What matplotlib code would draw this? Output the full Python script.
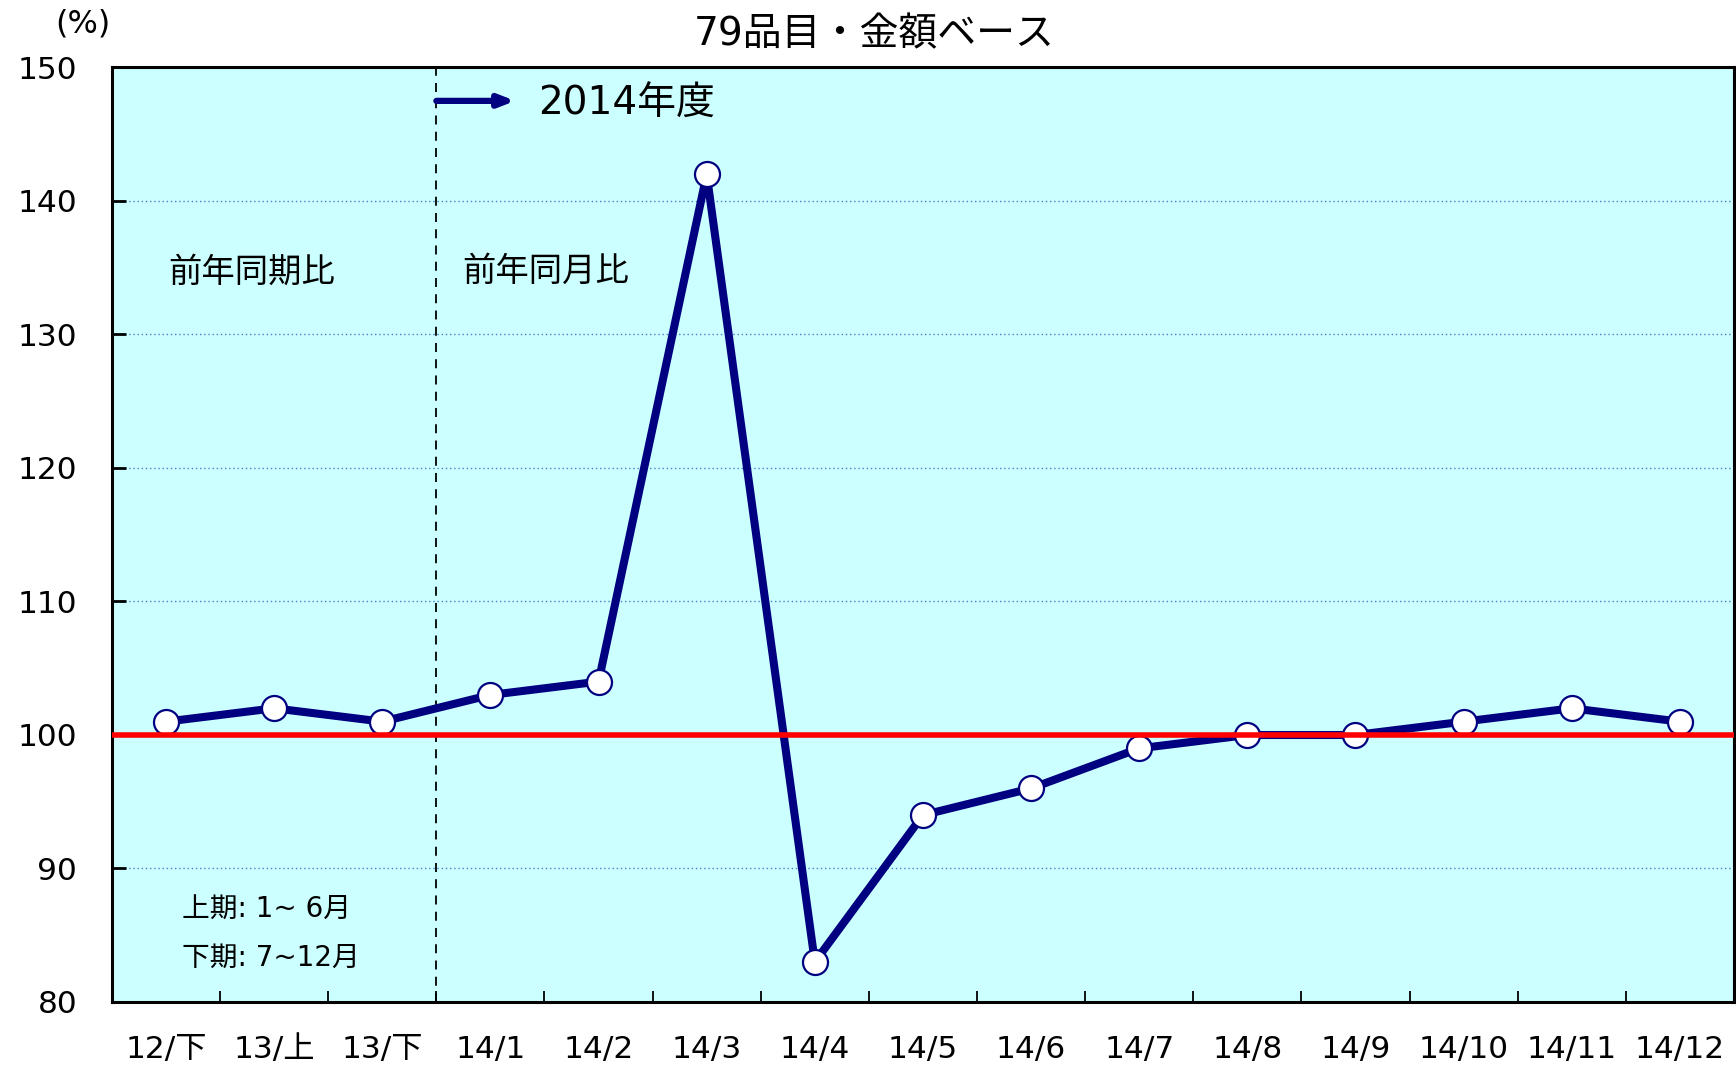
import matplotlib
matplotlib.use("Agg")
import matplotlib.pyplot as plt

plt.rcParams["font.family"] = ["DejaVu Sans", "Noto Sans CJK JP"]

labels = ["12/下", "13/上", "13/下", "14/1", "14/2", "14/3", "14/4", "14/5",
          "14/6", "14/7", "14/8", "14/9", "14/10", "14/11", "14/12"]
values = [101, 102, 101, 103, 104, 142, 83, 94, 96, 99, 100, 100, 101, 102, 101]
yticks = [80, 90, 100, 110, 120, 130, 140, 150]

fig = plt.figure(figsize=(17.36, 10.68), dpi=100)
ax = fig.add_axes([0.0645, 0.0618, 0.9343, 0.875])
ax.set_facecolor("#ccffff")

x = list(range(len(labels)))
ax.plot(x, values, color="#000080", lw=5.8, marker="o", ms=18,
        mfc="white", mec="#000080", mew=1.6, zorder=4)
ax.axhline(100, color="#ff0000", lw=4, zorder=5)
ax.axvline(2.5, color="black", ls=(0, (5, 4)), lw=1.3, zorder=3)

ax.set_xlim(-0.5, len(labels) - 0.5)
ax.set_ylim(80, 150)
ax.set_yticks(yticks)
ax.set_yticklabels([str(v) for v in yticks])
for v in yticks[1:-1]:
    if v != 100:
        ax.axhline(v, color="#4a7fc8", ls=(0, (1, 2)), lw=1.0, zorder=1)

ax.set_xticks([i + 0.5 for i in range(len(labels) - 1)])
ax.set_xticklabels([])
ax.set_xticks(x, minor=True)
ax.set_xticklabels(labels, minor=True, fontsize=22.5)
ax.tick_params(axis="x", which="major", direction="in", length=8, width=1.3)
ax.tick_params(axis="x", which="minor", length=0, pad=24)
ax.tick_params(axis="y", direction="in", length=10, width=2, labelsize=22.5, pad=25)
ax.tick_params(top=False, right=False)
for s in ax.spines.values():
    s.set_linewidth(2.2)

ax.annotate("", xy=(3.23, 147.5), xytext=(2.5, 147.5),
            arrowprops=dict(arrowstyle="-|>,head_length=0.9,head_width=0.35",
                            color="#000080", lw=4.5, shrinkA=0, shrinkB=0))
ax.text(3.44, 147.3, "2014年度", fontsize=28, va="center", ha="left")
ax.text(0.02, 134.7, "前年同期比", fontsize=24, va="center", ha="left")
ax.text(2.74, 134.7, "前年同月比", fontsize=24, va="center", ha="left")
ax.text(0.15, 86.9, "上期: 1~ 6月", fontsize=20, va="center", ha="left")
ax.text(0.15, 83.3, "下期: 7~12月", fontsize=20, va="center", ha="left")

fig.text(790 / 1568, 1 - 31 / 965, "79品目・金額ベース", fontsize=28, ha="center", va="center")
fig.text(75 / 1568, 1 - 22 / 965, "(%)", fontsize=23, ha="center", va="center")

fig.savefig("out.png", dpi=100)
